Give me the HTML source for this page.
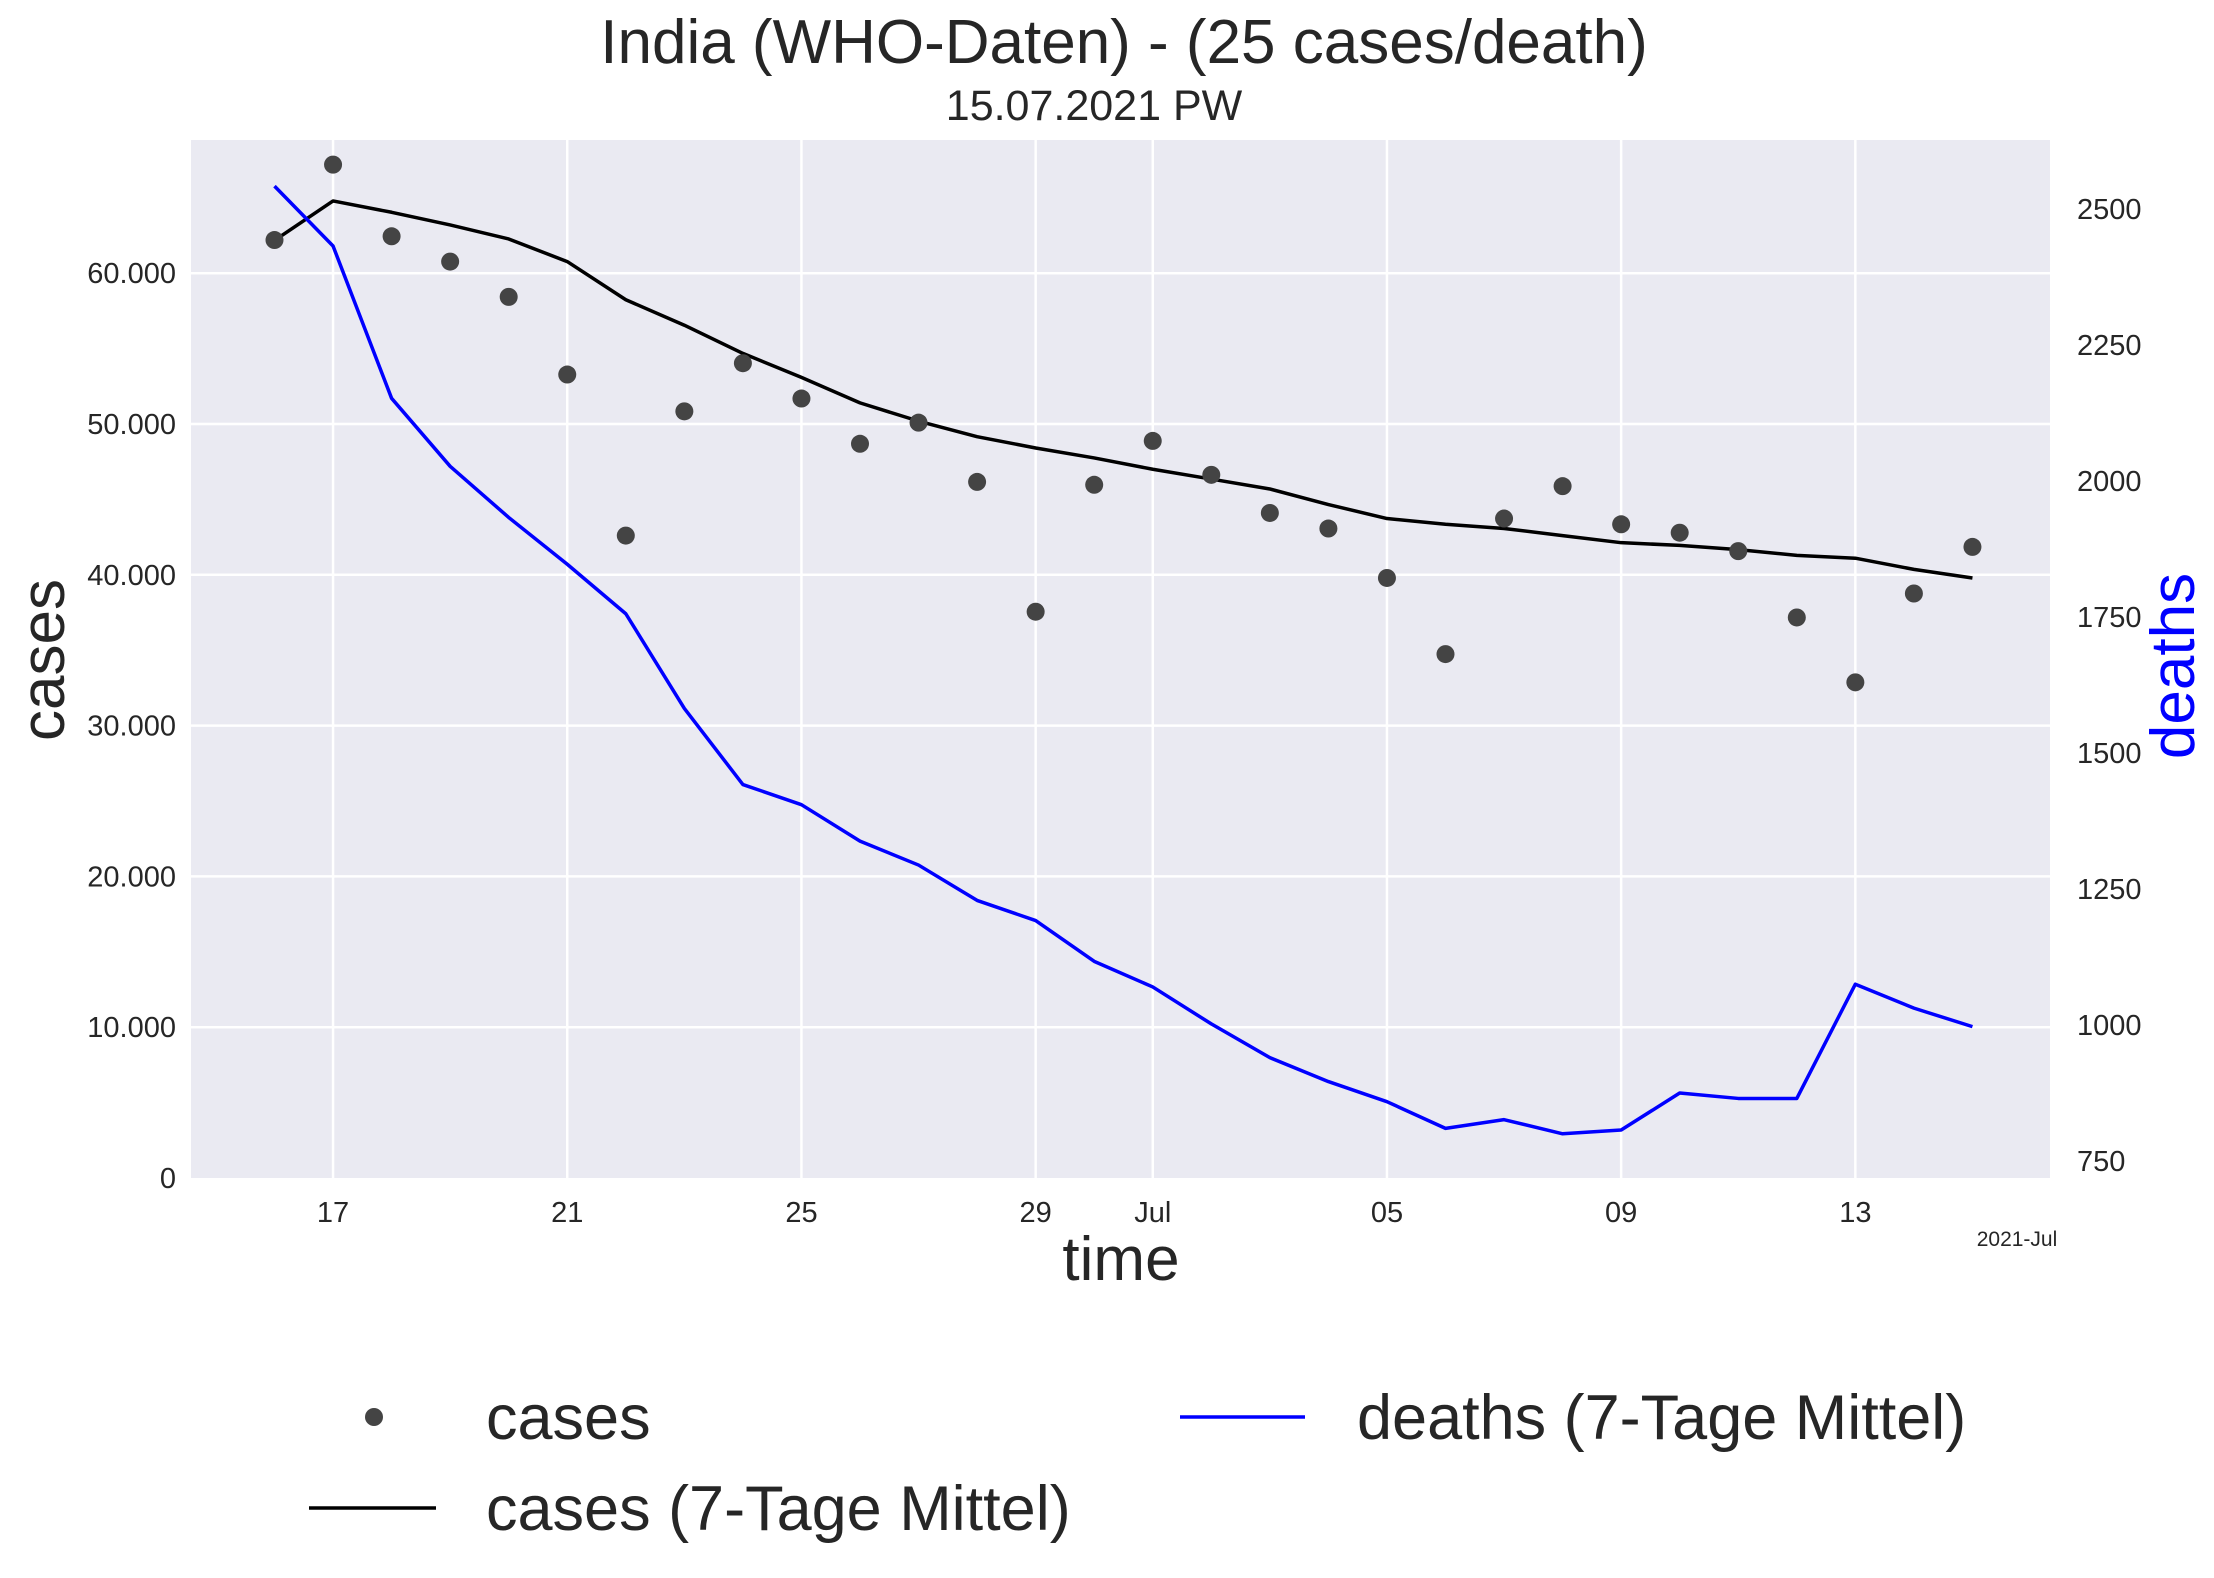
<!DOCTYPE html>
<html><head><meta charset="utf-8"><style>
html,body{margin:0;padding:0;background:#fff;}
svg{display:block;font-family:"Liberation Sans",Arial,sans-serif;}
</style></head><body>
<svg id="chart" width="2214" height="1578" viewBox="0 0 2214 1578" xmlns="http://www.w3.org/2000/svg">
<rect x="191" y="140" width="1859" height="1038" fill="#eaeaf2"/>
<g id="grid"></g>
<g id="series"></g>
<g id="axes"></g>
<text x="1124" y="63" font-size="62" fill="#262626" text-anchor="middle">India (WHO-Daten) - (25 cases/death)</text>
<text x="1094" y="120" font-size="43" fill="#262626" text-anchor="middle">15.07.2021 PW</text>
<text x="1121" y="1280" font-size="62" fill="#262626" text-anchor="middle">time</text>
<text x="2017" y="1246" font-size="21" fill="#262626" text-anchor="middle">2021-Jul</text>
<text transform="translate(64,660) rotate(-90)" font-size="62" fill="#262626" text-anchor="middle">cases</text>
<text transform="translate(2194,666) rotate(-90)" font-size="62" fill="#0000ff" text-anchor="middle">deaths</text>
<g>
<circle cx="374" cy="1417" r="9" fill="#444"/>
<text x="486" y="1439" font-size="63" fill="#262626">cases</text>
<line x1="309" y1="1508" x2="436" y2="1508" stroke="#000" stroke-width="3.5"/>
<text x="486" y="1530" font-size="63" fill="#262626">cases (7-Tage Mittel)</text>
<line x1="1180" y1="1417" x2="1305" y2="1417" stroke="#0000ff" stroke-width="3.5"/>
<text x="1357" y="1439" font-size="63" fill="#262626">deaths (7-Tage Mittel)</text>
</g>
</svg>
<script>
const days = ["06-16","06-17","06-18","06-19","06-20","06-21","06-22","06-23","06-24","06-25","06-26","06-27","06-28","06-29","06-30","07-01","07-02","07-03","07-04","07-05","07-06","07-07","07-08","07-09","07-10","07-11","07-12","07-13","07-14","07-15"];
const cases = [62200,67200,62450,60770,58430,53280,42600,50840,54030,51690,48690,50090,46160,37550,45970,48880,46630,44100,43070,39790,34740,43730,45880,43350,42790,41570,37170,32870,38760,41850];
const casesAvg = [62170,64790,64040,63200,62270,60770,58240,56550,54680,53090,51400,50190,49160,48410,47750,47000,46350,45690,44660,43730,43350,43070,42600,42130,41950,41670,41290,41100,40360,39790];
const deathsAvg = [2542,2432,2152,2027,1933,1847,1756,1582,1442,1405,1338,1294,1229,1192,1117,1070,1002,940,896,859,810,826,800,807,875,865,865,1075,1031,997];
const xTickIdx = [1,5,9,13,15,19,23,27];
const xTickLabels = ["17","21","25","29","Jul","05","09","13"];
const yLeftTicks = [0,10000,20000,30000,40000,50000,60000];
const yLeftLabels = ["0","10.000","20.000","30.000","40.000","50.000","60.000"];
const yRightTicks = [750,1000,1250,1500,1750,2000,2250,2500];

const NS="http://www.w3.org/2000/svg";
const X0=191,X1=2050,Y0=140,Y1=1178;
function xs(i){return 274.5+i*58.55;}
function yl(v){return 1178-v*0.01508;}
function yr(v){return 209+(2500-v)*0.544;}
function mk(tag,attrs,parent,text){const e=document.createElementNS(NS,tag);for(const k in attrs)e.setAttribute(k,attrs[k]);if(text!==undefined)e.textContent=text;parent.appendChild(e);return e;}
const grid=document.getElementById('grid'),ser=document.getElementById('series'),ax=document.getElementById('axes');

xTickIdx.forEach((idx,k)=>{
  const x=xs(idx);
  const l=mk('line',{x1:x,x2:x,y1:Y0,y2:Y1,stroke:'#fff','stroke-width':2.5},grid);
  
  
  const t=mk('text',{x:x,y:1222,'font-size':29,fill:'#262626','text-anchor':'middle'},ax,xTickLabels[k]);
  
  
});
yLeftTicks.forEach((v,k)=>{
  const y=yl(v);
  if(v>0){const l=mk('line',{x1:X0,x2:X1,y1:y,y2:y,stroke:'#fff','stroke-width':2.5},grid);
  
  }
  const t=mk('text',{x:176,y:y+10,'font-size':29,fill:'#262626','text-anchor':'end'},ax,yLeftLabels[k]);
  
  
});
yRightTicks.forEach(v=>{
  const t=mk('text',{x:2077,y:yr(v)+10,'font-size':29,fill:'#262626','text-anchor':'start'},ax,String(v));
  
  
});

const pa=mk('polyline',{points:casesAvg.map((v,i)=>xs(i)+','+yl(v)).join(' '),fill:'none',stroke:'#000','stroke-width':3.5,'stroke-linejoin':'round'},ser);


const pd=mk('polyline',{points:deathsAvg.map((v,i)=>xs(i)+','+yr(v)).join(' '),fill:'none',stroke:'#0000ff','stroke-width':3.5,'stroke-linejoin':'round'},ser);


cases.forEach((v,i)=>{
  const c=mk('circle',{cx:xs(i),cy:yl(v),r:9,fill:'#444'},ser);
  
  
});
</script>
</body></html>
